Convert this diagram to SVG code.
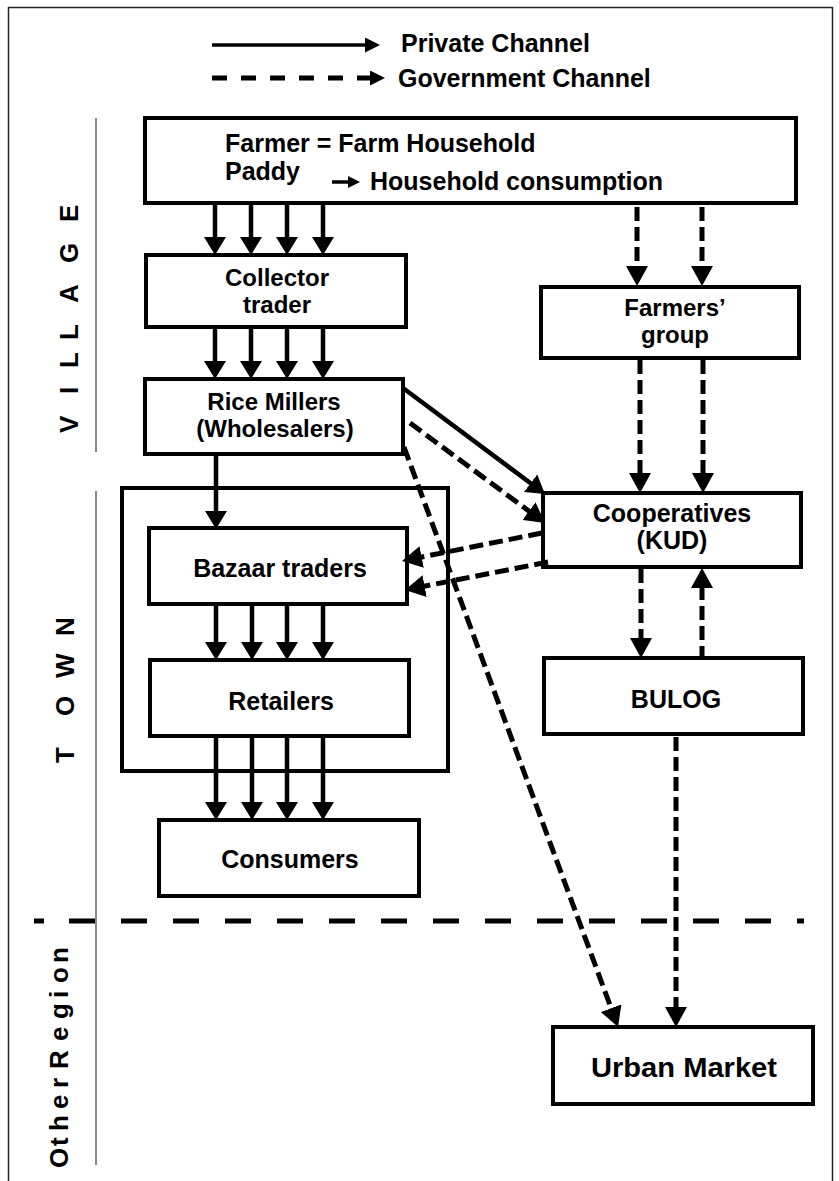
<svg xmlns="http://www.w3.org/2000/svg" width="839" height="1181" viewBox="0 0 839 1181">
  <style>
    .box { fill: #fff; stroke: #000; stroke-width: 4; }
    .lbl { font-family: "Liberation Sans", Arial, sans-serif; font-weight: bold; font-size: 25px; fill: #000; }
    .two { font-size: 24px; }
    .mid { text-anchor: middle; }
    .side { font-family: "Liberation Sans", Arial, sans-serif; font-weight: bold; font-size: 26px; fill: #000; }
    .solid { stroke: #000; stroke-width: 4.5; fill: none; marker-end: url(#hs); }
    .dash { stroke: #000; stroke-width: 5; stroke-dasharray: 14 6; fill: none; marker-end: url(#hd); }
    .gray { stroke: #888; stroke-width: 2; fill: none; }
  </style>
  <defs>
    <marker id="hs" markerUnits="userSpaceOnUse" viewBox="0 0 18 22" markerWidth="18" markerHeight="22" refX="8" refY="11" orient="auto">
      <path d="M0,0 L18,11 L0,22 z" fill="#000"/>
    </marker>
    <marker id="hd" markerUnits="userSpaceOnUse" viewBox="0 0 20 22" markerWidth="20" markerHeight="22" refX="8" refY="11" orient="auto">
      <path d="M0,0 L20,11 L0,22 z" fill="#000"/>
    </marker>
    <marker id="hl" markerUnits="userSpaceOnUse" viewBox="0 0 15 15" markerWidth="15" markerHeight="15" refX="3" refY="7.5" orient="auto">
      <path d="M0,0 L15,7.5 L0,15 z" fill="#000"/>
    </marker>
    <marker id="hh" markerUnits="userSpaceOnUse" viewBox="0 0 12 12" markerWidth="12" markerHeight="12" refX="4" refY="6" orient="auto">
      <path d="M0,0 L12,6 L0,12 z" fill="#000"/>
    </marker>
  </defs>

  <rect width="839" height="1181" fill="#fff"/>
  <path d="M8.5,1181 V7.5 H832.5 V1181" fill="none" stroke="#222" stroke-width="1.5"/>

  <g id="legend">
    <line x1="212" y1="45" x2="368" y2="45" stroke="#000" stroke-width="3.5" marker-end="url(#hl)"/>
    <text class="lbl" x="401" y="52">Private Channel</text>
    <line x1="212" y1="78" x2="373" y2="78" stroke="#000" stroke-width="5" stroke-dasharray="15 14" marker-end="url(#hl)"/>
    <text class="lbl" x="398" y="87">Government Channel</text>
  </g>

  <g id="region-labels">
    <line class="gray" x1="96" y1="118" x2="96" y2="452"/>
    <line class="gray" x1="96" y1="491" x2="96" y2="1165"/>
    <text class="side" transform="translate(78,0) rotate(-90)" x="-433 -394 -368 -340 -303 -263 -222">VILLAGE</text>
    <text class="side" transform="translate(74,0) rotate(-90)" x="-763 -716 -678 -636">TOWN</text>
    <text class="side" transform="translate(68,0) rotate(-90)" x="-1168 -1146 -1131 -1109 -1088 -1080 -1069 -1041 -1019 -998 -983 -963">Other Region</text>
  </g>

  <g id="separator">
    <line x1="34" y1="921" x2="44" y2="921" stroke="#000" stroke-width="5"/>
    <line x1="69" y1="921" x2="771" y2="921" stroke="#000" stroke-width="5" stroke-dasharray="26 26"/>
    <line x1="797" y1="921" x2="804" y2="921" stroke="#000" stroke-width="5"/>
  </g>

  <g id="town-box">
    <rect class="box" x="122" y="488" width="326" height="283" fill="none"/>
  </g>

  <g id="farmer">
    <rect class="box" x="145" y="118" width="651" height="85"/>
    <text class="lbl" x="225" y="152">Farmer = Farm Household</text>
    <text class="lbl" x="225" y="180">Paddy</text>
    <line x1="332" y1="182" x2="352" y2="182" stroke="#000" stroke-width="3.5" marker-end="url(#hh)"/>
    <text class="lbl" x="370" y="190">Household consumption</text>
  </g>

  <g id="collector">
    <rect class="box" x="146" y="255" width="260" height="72"/>
    <text class="lbl two mid" x="277" y="286">Collector</text>
    <text class="lbl two mid" x="277" y="313">trader</text>
  </g>

  <g id="rice-millers">
    <rect class="box" x="145" y="379" width="258" height="75"/>
    <text class="lbl two mid" x="274" y="410">Rice Millers</text>
    <text class="lbl two mid" x="275" y="437">(Wholesalers)</text>
  </g>

  <g id="farmers-group">
    <rect class="box" x="541" y="287" width="258" height="71"/>
    <text class="lbl two mid" x="675" y="316">Farmers’</text>
    <text class="lbl two mid" x="675" y="343">group</text>
  </g>

  <g id="cooperatives">
    <rect class="box" x="543" y="493" width="258" height="74"/>
    <text class="lbl mid" x="672" y="522">Cooperatives</text>
    <text class="lbl mid" x="672" y="549">(KUD)</text>
  </g>

  <g id="bazaar-traders">
    <rect class="box" x="149" y="528" width="258" height="76"/>
    <text class="lbl mid" x="280" y="577">Bazaar traders</text>
  </g>

  <g id="retailers">
    <rect class="box" x="150" y="660" width="259" height="76"/>
    <text class="lbl mid" x="281" y="710">Retailers</text>
  </g>

  <g id="consumers">
    <rect class="box" x="159" y="820" width="260" height="76"/>
    <text class="lbl mid" x="290" y="868">Consumers</text>
  </g>

  <g id="bulog">
    <rect class="box" x="544" y="658" width="259" height="76"/>
    <text class="lbl mid" x="676" y="708">BULOG</text>
  </g>

  <g id="urban-market">
    <rect class="box" x="553" y="1027" width="260" height="77"/>
    <text class="lbl mid" x="684" y="1077" style="font-size:27px" textLength="186" lengthAdjust="spacingAndGlyphs">Urban Market</text>
  </g>

  <g id="connectors">
    <line class="solid" x1="215" y1="203" x2="215" y2="245"/>
    <line class="solid" x1="251" y1="203" x2="251" y2="245"/>
    <line class="solid" x1="287" y1="203" x2="287" y2="245"/>
    <line class="solid" x1="323" y1="203" x2="323" y2="245"/>
    <line class="solid" x1="215" y1="327" x2="215" y2="369"/>
    <line class="solid" x1="251" y1="327" x2="251" y2="369"/>
    <line class="solid" x1="287" y1="327" x2="287" y2="369"/>
    <line class="solid" x1="323" y1="327" x2="323" y2="369"/>
    <line class="solid" x1="216" y1="454" x2="216" y2="519"/>
    <line class="solid" x1="216" y1="604" x2="216" y2="650"/>
    <line class="solid" x1="252" y1="604" x2="252" y2="650"/>
    <line class="solid" x1="287" y1="604" x2="287" y2="650"/>
    <line class="solid" x1="323" y1="604" x2="323" y2="650"/>
    <line class="solid" x1="216" y1="736" x2="216" y2="810"/>
    <line class="solid" x1="252" y1="736" x2="252" y2="810"/>
    <line class="solid" x1="287" y1="736" x2="287" y2="810"/>
    <line class="solid" x1="323" y1="736" x2="323" y2="810"/>
    <line class="solid" x1="403" y1="388" x2="537" y2="488"/>
    <line class="dash" x1="637" y1="207" x2="637" y2="274"/>
    <line class="dash" x1="702" y1="207" x2="702" y2="274"/>
    <line class="dash" x1="640" y1="360" x2="640" y2="481"/>
    <line class="dash" x1="703" y1="360" x2="703" y2="481"/>
    <line class="dash" x1="410" y1="423" x2="535.4" y2="515.9"/>
    <line class="dash" x1="542" y1="533" x2="413.8" y2="558.6"/>
    <line class="dash" x1="548" y1="562" x2="416.8" y2="587.7"/>
    <line class="dash" x1="404" y1="447" x2="613.9" y2="1015.7"/>
    <line class="dash" x1="641" y1="569" x2="641" y2="646"/>
    <line class="dash" x1="702" y1="660" x2="702" y2="580"/>
    <line class="dash" x1="676" y1="737" x2="676" y2="1015"/>
  </g>
</svg>
